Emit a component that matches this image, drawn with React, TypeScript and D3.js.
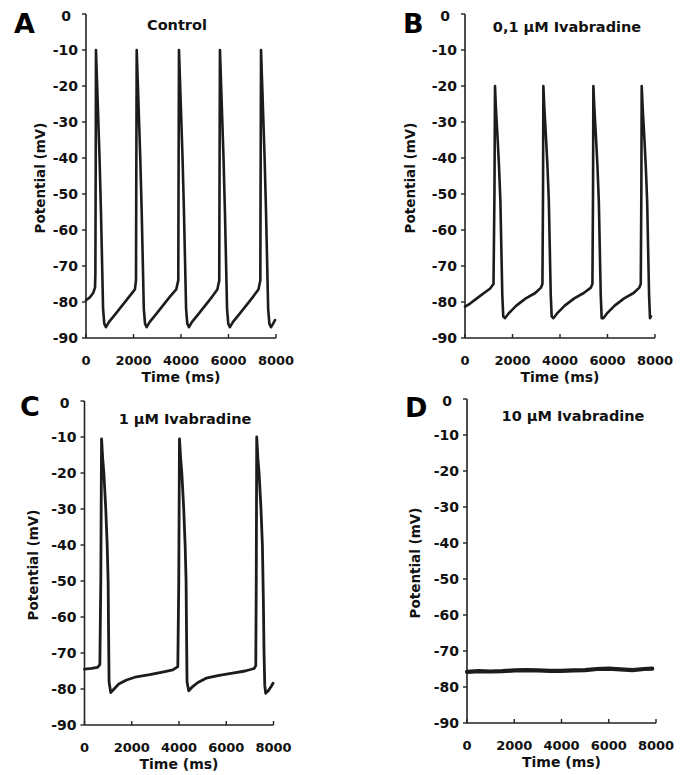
import React from "react";
import * as d3 from "d3";

// traces: [time (ms), potential (mV)]
const controlTrace: [number, number][] = [
  [0, -79.5], [150, -78.8], [300, -77.5], [380, -76], [395, -72], [410, -40], [420, -10],
  [460, -18], [510, -28], [570, -40], [630, -55], [680, -70], [720, -82], [770, -86], [840, -87],
  [970, -85.5], [1220, -83.5], [1520, -81], [1820, -78.5], [2060, -76.5],
  [2105, -74], [2120, -40], [2135, -10], [2175, -18], [2225, -28], [2285, -40], [2345, -55],
  [2395, -70], [2435, -82], [2485, -86], [2555, -87], [2685, -85.5], [2935, -83.5], [3235, -81],
  [3535, -78.5], [3800, -76.5],
  [3885, -74], [3900, -40], [3915, -10], [3955, -18], [4005, -28], [4065, -40], [4125, -55],
  [4175, -70], [4215, -82], [4265, -86], [4335, -87], [4465, -85.5], [4715, -83.5], [5015, -81],
  [5315, -78.5], [5530, -76.5],
  [5610, -74], [5625, -40], [5640, -10], [5680, -18], [5730, -28], [5790, -40], [5850, -55],
  [5900, -70], [5940, -82], [5990, -86], [6060, -87], [6190, -85.5], [6440, -83.5], [6740, -81],
  [7040, -78.5], [7260, -76.5],
  [7340, -74], [7355, -40], [7370, -10], [7410, -18], [7460, -28], [7520, -40], [7580, -55],
  [7630, -70], [7670, -82], [7720, -86], [7790, -87], [7880, -86], [7960, -85],
];

const iva01Trace: [number, number][] = [
  [0, -81.3], [200, -80.5], [500, -79], [800, -77.5], [1050, -76.3], [1200, -75], [1240, -50], [1263, -20],
  [1300, -26], [1360, -33], [1430, -42], [1490, -52], [1530, -65], [1570, -78], [1610, -84], [1680, -84.5],
  [1860, -83], [2160, -81], [2560, -79], [2960, -77.5], [3200, -76],
  [3260, -75], [3285, -50], [3300, -20], [3340, -26], [3400, -33], [3470, -42], [3530, -52], [3570, -65],
  [3610, -78], [3650, -84], [3720, -84.5], [3900, -83], [4200, -81], [4600, -79], [5000, -77.5], [5300, -76],
  [5365, -75], [5390, -50], [5405, -20], [5445, -26], [5505, -33], [5575, -42], [5635, -52], [5675, -65],
  [5715, -78], [5755, -84.5], [5825, -84.5], [6000, -83], [6300, -81], [6700, -79], [7100, -77.5], [7340, -76],
  [7400, -75], [7425, -50], [7440, -20], [7480, -26], [7540, -33], [7610, -42], [7670, -52], [7710, -65],
  [7750, -78], [7790, -84.5], [7830, -84],
];

const iva1Trace: [number, number][] = [
  [0, -74.5], [300, -74.3], [550, -74], [650, -73.2], [690, -50], [722, -10.5],
  [770, -16], [820, -20], [900, -30], [960, -40], [1000, -50], [1020, -65], [1040, -78], [1110, -81],
  [1250, -80], [1450, -78.6], [1780, -77.5], [2200, -76.6], [2760, -76], [3300, -75.3], [3740, -74.7],
  [3950, -73.8], [3990, -50], [4020, -10.5],
  [4070, -16], [4120, -20], [4200, -30], [4260, -40], [4300, -50], [4320, -65], [4340, -78], [4410, -80.5],
  [4550, -79.5], [4800, -78.2], [5150, -77], [5700, -76.2], [6270, -75.6], [6800, -75], [7180, -74.3],
  [7250, -73.5], [7270, -50], [7290, -10],
  [7340, -16], [7390, -20], [7470, -30], [7530, -40], [7570, -55], [7600, -70], [7630, -79], [7670, -81.2],
  [7780, -80.5], [7900, -79.3], [7980, -78.4],
];

const iva10Trace: [number, number][] = [
  [0, -75.8], [500, -75.6], [1000, -75.7], [1500, -75.6], [2000, -75.4], [2500, -75.3], [3000, -75.4],
  [3500, -75.5], [4000, -75.5], [4500, -75.4], [5000, -75.3], [5500, -75.0], [6000, -74.9], [6500, -75.1],
  [7000, -75.3], [7500, -75.0], [7840, -74.9],
];

const timeTicks = [0, 2000, 4000, 6000, 8000];
const potentialTicks = [0, -10, -20, -30, -40, -50, -60, -70, -80, -90];
const panelLetters = ["A", "B", "C", "D"];
const panelTitles = ["Control", "0,1 µM Ivabradine", "1 µM Ivabradine", "10 µM Ivabradine"];
const traces = [controlTrace, iva01Trace, iva1Trace, iva10Trace];

const FONT = "'DejaVu Sans', Arial, sans-serif";

// layout of each panel (pixel placement only)
const layouts = [
  { left: 86, top: 14, w: 190, h: 324, letter: [14, 33], title: [177, 30], ylab: 40, lw: 2.6 },
  { left: 465, top: 14, w: 190, h: 324, letter: [403, 33], title: [567, 32], ylab: 410, lw: 2.6 },
  { left: 84.5, top: 401, w: 189, h: 324, letter: [20, 416], title: [185, 424], ylab: 33, lw: 2.8 },
  { left: 467, top: 399, w: 189, h: 324, letter: [405, 417], title: [573, 421], ylab: 415, lw: 4.2 },
];

function Panel({ idx }: { idx: number }) {
  const L = layouts[idx];
  const x = d3.scaleLinear().domain([0, 8000]).range([L.left, L.left + L.w]);
  const y = d3.scaleLinear().domain([0, -90]).range([L.top, L.top + L.h]);
  const line = d3
    .line<[number, number]>()
    .x((d) => x(d[0]))
    .y((d) => y(d[1]));
  const bottom = y(-90);
  return (
    <g>
      <text x={L.letter[0]} y={L.letter[1]} fontFamily={FONT} fontWeight="bold" fontSize={27} fill="#000">
        {panelLetters[idx]}
      </text>
      <text x={L.title[0]} y={L.title[1]} fontFamily={FONT} fontWeight="bold" fontSize={14.5} textAnchor="middle" fill="#111">
        {panelTitles[idx]}
      </text>
      {/* y axis */}
      <line x1={x(0)} x2={x(0)} y1={y(0)} y2={bottom} stroke="#222" strokeWidth={1.6} />
      {potentialTicks.map((t) => (
        <g key={t}>
          <line x1={x(0) - 4} x2={x(0)} y1={y(t)} y2={y(t)} stroke="#222" strokeWidth={1.4} />
          <text
            x={x(0) - (t === 0 ? 15 : 8)}
            y={y(t) + (t === 0 ? 2 : 0)}
            dy="0.36em"
            textAnchor="end"
            fontFamily={FONT}
            fontWeight="bold"
            fontSize={14}
            fill="#111"
          >
            {t}
          </text>
        </g>
      ))}
      {/* x axis */}
      <line x1={x(0)} x2={x(8000)} y1={bottom} y2={bottom} stroke="#222" strokeWidth={1.6} />
      {timeTicks.map((t) => (
        <g key={t}>
          <line x1={x(t)} x2={x(t)} y1={bottom} y2={bottom - 4} stroke="#222" strokeWidth={1.4} />
          <text x={x(t)} y={bottom + 27} textAnchor="middle" fontFamily={FONT} fontWeight="bold" fontSize={13} fill="#111">
            {t}
          </text>
        </g>
      ))}
      <text x={L.left + L.w / 2} y={bottom + 44} textAnchor="middle" fontFamily={FONT} fontWeight="bold" fontSize={14} fill="#111">
        Time (ms)
      </text>
      <text
        transform={`translate(${L.ylab},${L.top + 164}) rotate(-90)`}
        dy="0.36em"
        textAnchor="middle"
        fontFamily={FONT}
        fontWeight="bold"
        fontSize={13.5}
        fill="#111"
      >
        Potential (mV)
      </text>
      <path d={line(traces[idx]) ?? ""} fill="none" stroke="#1c1c1c" strokeWidth={L.lw} strokeLinejoin="round" strokeLinecap="round" />
    </g>
  );
}

export default function App() {
  return (
    <svg width={680} height={775} style={{ position: "absolute", left: 0, top: 0, background: "#fff" }}>
      <rect width={680} height={775} fill="#fff" />
      {layouts.map((_, i) => (
        <Panel key={i} idx={i} />
      ))}
    </svg>
  );
}
